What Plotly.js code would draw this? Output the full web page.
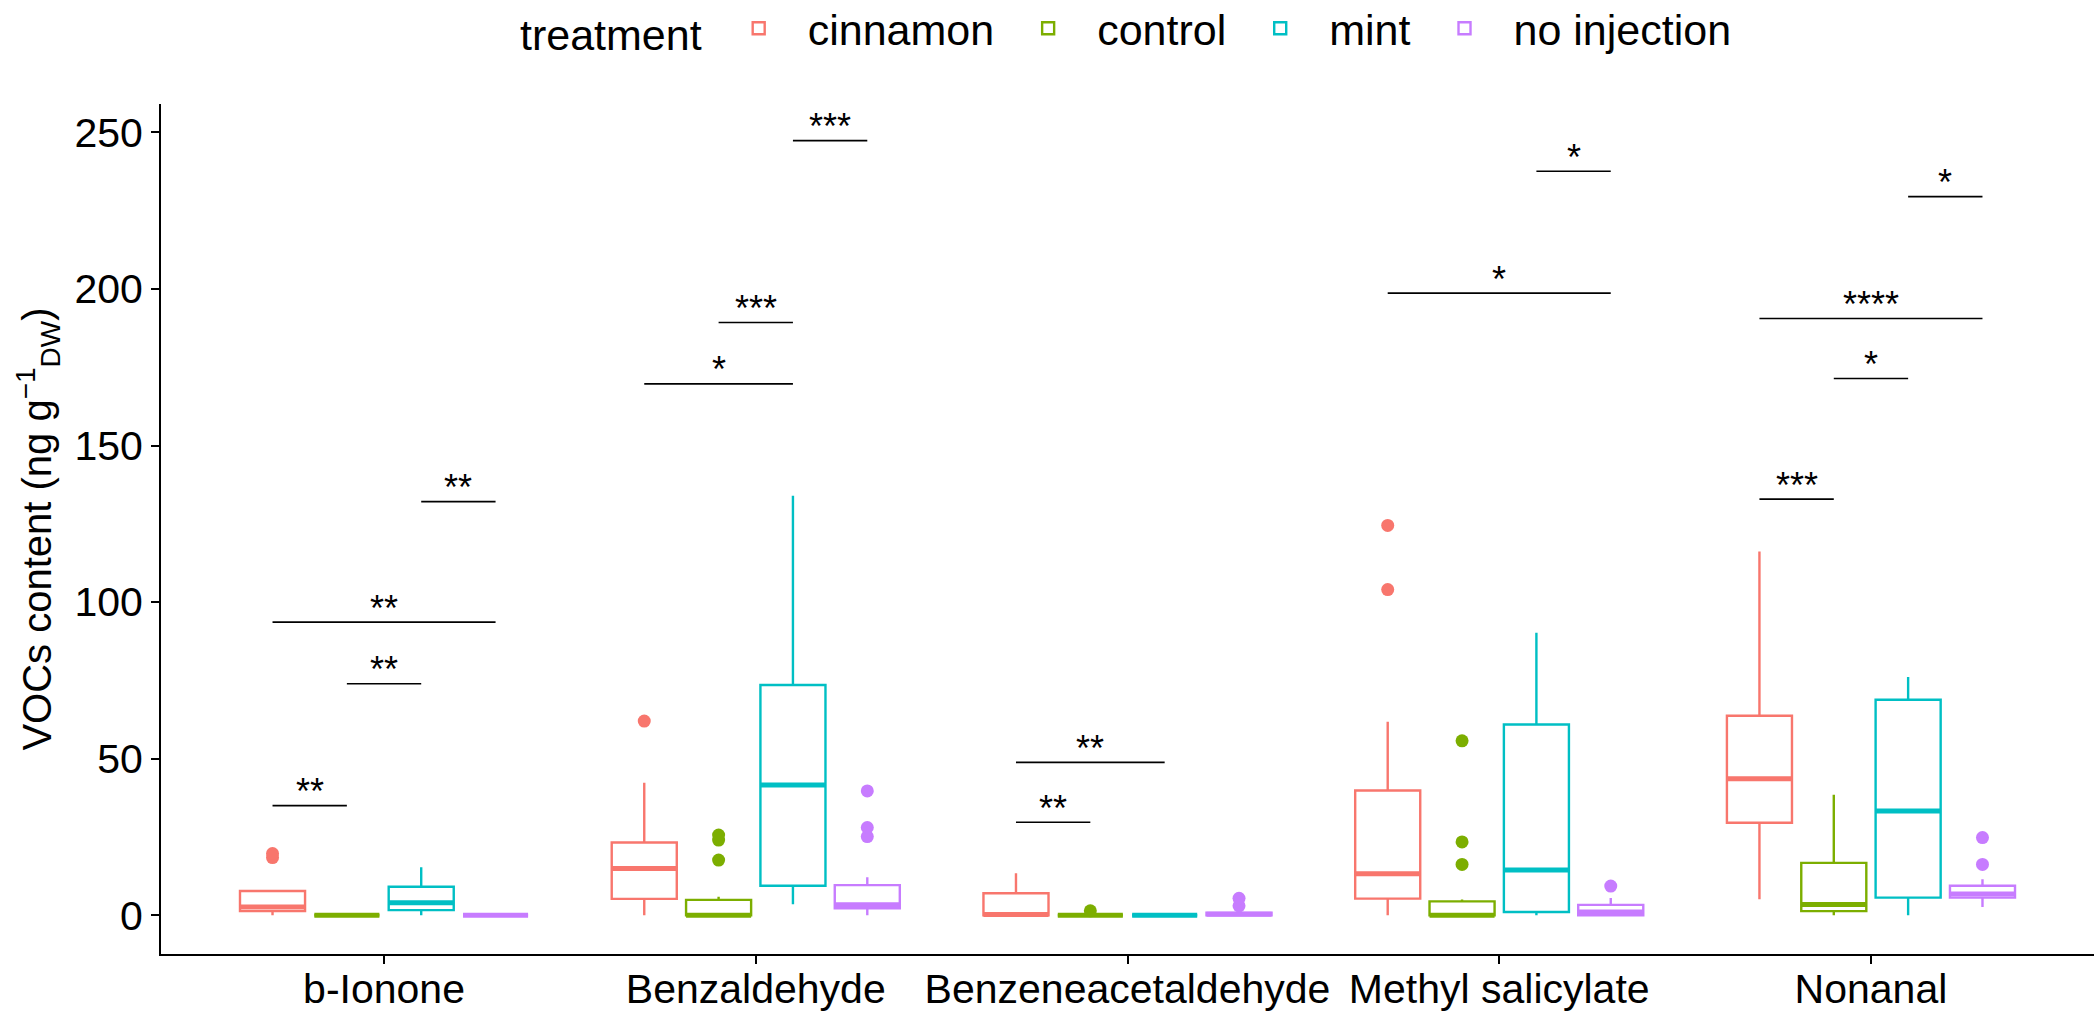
<!DOCTYPE html>
<html><head><meta charset="utf-8">
<script src="https://cdn.plot.ly/plotly-3.0.1.min.js"></script>
<style>body{margin:0;background:#fff}</style>
</head><body><div id="chart" style="width:2098px;height:1013px"></div>
<script>
const categories = ['b-Ionone','Benzaldehyde','Benzeneacetaldehyde','Methyl salicylate','Nonanal'];
const treatments = ['cinnamon','control','mint','no injection'];
const colors = ['#F8766D','#7CAE00','#00BFC4','#C77CFF'];

// cinnamon
const cinnamonLower  = [0, 0, 0, 0, 5.1];
const cinnamonQ1     = [1.3, 5.2, 0, 5.3, 29.5];
const cinnamonMedian = [2.6, 14.9, 0.2, 13.2, 43.6];
const cinnamonQ3     = [7.7, 23.2, 7.0, 39.8, 63.7];
const cinnamonUpper  = [7.7, 42.3, 13.4, 61.8, 116.2];
const cinnamonOutliers = [[19.7, 18.4], [62.0], [], [124.5, 104.0], []];
// control
const controlLower  = [0, 0, 0, 0, 0];
const controlQ1     = [0, 0, 0, 0, 1.3];
const controlMedian = [0, 0, 0, 0, 3.4];
const controlQ3     = [0, 4.9, 0, 4.4, 16.7];
const controlUpper  = [0, 5.9, 0, 5.0, 38.5];
const controlOutliers = [[], [25.6, 24.0, 17.6], [1.4], [55.7, 23.4, 16.2], []];
// mint
const mintLower  = [0, 3.5, 0, 0, 0];
const mintQ1     = [1.6, 9.4, 0, 1.0, 5.6];
const mintMedian = [4.0, 41.6, 0, 14.4, 33.3];
const mintQ3     = [9.1, 73.5, 0, 60.9, 68.8];
const mintUpper  = [15.3, 134.0, 0, 90.2, 76.1];
const mintOutliers = [[], [], [], [], []];
// no injection
const noInjLower  = [0, 0, 0, 0, 2.6];
const noInjQ1     = [0, 2.2, 0, 0, 5.6];
const noInjMedian = [0, 3.3, 0.3, 1.0, 6.8];
const noInjQ3     = [0, 9.6, 0.8, 3.3, 9.4];
const noInjUpper  = [0, 12.1, 1.5, 5.5, 11.5];
const noInjOutliers = [[], [39.7, 28.0, 25.1], [5.4, 3.0], [9.3], [24.8, 16.2]];

// significance comparisons
const sigCategory = ['b-Ionone','b-Ionone','b-Ionone','b-Ionone','Benzaldehyde','Benzaldehyde','Benzaldehyde','Benzeneacetaldehyde','Benzeneacetaldehyde','Methyl salicylate','Methyl salicylate','Nonanal','Nonanal','Nonanal','Nonanal'];
const sigGroup1 = ['cinnamon','control','cinnamon','mint','cinnamon','control','mint','cinnamon','cinnamon','cinnamon','mint','cinnamon','control','cinnamon','mint'];
const sigGroup2 = ['control','mint','no injection','no injection','mint','mint','no injection','control','mint','no injection','no injection','control','mint','no injection','no injection'];
const sigY = [35.0, 73.9, 93.6, 132.1, 169.7, 189.3, 247.4, 29.7, 48.8, 198.7, 237.6, 132.9, 171.4, 190.6, 229.5];
const sigLabel = ['**','**','**','**','*','***','***','**','**','*','*','***','*','****','*'];

const yTicks = [0, 50, 100, 150, 200, 250];

const stats = [
  {lf: cinnamonLower, q1: cinnamonQ1, med: cinnamonMedian, q3: cinnamonQ3, uf: cinnamonUpper, out: cinnamonOutliers},
  {lf: controlLower, q1: controlQ1, med: controlMedian, q3: controlQ3, uf: controlUpper, out: controlOutliers},
  {lf: mintLower, q1: mintQ1, med: mintMedian, q3: mintQ3, uf: mintUpper, out: mintOutliers},
  {lf: noInjLower, q1: noInjQ1, med: noInjMedian, q3: noInjQ3, uf: noInjUpper, out: noInjOutliers}
];

const traces = [];
// main boxes (precomputed statistics)
treatments.forEach((t, i) => {
  const s = stats[i];
  traces.push({
    type: 'box', name: t, x: categories,
    q1: s.q1, median: s.med, q3: s.q3, lowerfence: s.lf, upperfence: s.uf,
    orientation: 'v', offsetgroup: t, alignmentgroup: 'a',
    boxpoints: false, whiskerwidth: 0,
    line: {color: colors[i], width: 2.4}, fillcolor: 'rgba(255,255,255,0)',
    hoverinfo: 'skip'
  });
});
// thicker median bars (ggplot style)
treatments.forEach((t, i) => {
  const s = stats[i];
  traces.push({
    type: 'box', name: t, x: categories,
    q1: s.med, median: s.med, q3: s.med, lowerfence: s.med, upperfence: s.med,
    orientation: 'v', offsetgroup: t, alignmentgroup: 'a', showlegend: false,
    boxpoints: false, whiskerwidth: 0,
    line: {color: colors[i], width: 5}, fillcolor: 'rgba(255,255,255,0)',
    hoverinfo: 'skip'
  });
});
// outlier points
treatments.forEach((t, i) => {
  const xs = [], ys = [];
  stats[i].out.forEach((arr, c) => arr.forEach(v => { xs.push(categories[c]); ys.push(v); }));
  if (!xs.length) return;
  traces.push({
    type: 'box', name: t, x: xs, y: ys,
    orientation: 'v', offsetgroup: t, alignmentgroup: 'a', showlegend: false,
    boxpoints: 'all', jitter: 0, pointpos: 0, whiskerwidth: 0,
    line: {color: 'rgba(0,0,0,0)', width: 0}, fillcolor: 'rgba(0,0,0,0)',
    marker: {color: colors[i], size: 13, line: {width: 0}},
    hoverinfo: 'skip'
  });
});

const offsetOf = g => -0.3 + 0.2 * treatments.indexOf(g);
const shapes = [];
const annotations = [];
sigY.forEach((yv, k) => {
  const c = categories.indexOf(sigCategory[k]);
  const x0 = c + offsetOf(sigGroup1[k]);
  const x1 = c + offsetOf(sigGroup2[k]);
  shapes.push({type: 'line', xref: 'x', yref: 'y', x0: x0, x1: x1, y0: yv, y1: yv,
    line: {color: 'black', width: 1.6}});
  annotations.push({xref: 'x', yref: 'y', x: (x0 + x1) / 2, y: yv, text: sigLabel[k],
    showarrow: false, yanchor: 'middle', yshift: 14, font: {size: 36, color: 'black'}});
});

const axisCommon = {showline: true, linecolor: 'black', linewidth: 2, ticks: 'outside',
  ticklen: 8, tickwidth: 2, tickcolor: 'black', showgrid: false, zeroline: false,
  tickfont: {size: 41, color: 'black'}};

const layout = {
  width: 2098, height: 1013,
  margin: {l: 161, r: 4, t: 104, b: 59, autoexpand: false},
  paper_bgcolor: 'white', plot_bgcolor: 'white',
  font: {family: 'Liberation Sans, Arial, sans-serif', color: 'black'},
  boxmode: 'group', boxgap: 0.2, boxgroupgap: 0.125,
  xaxis: Object.assign({}, axisCommon, {type: 'category', categoryorder: 'array',
    categoryarray: categories, range: [-0.6, 4.6], ticklabelstandoff: -10}),
  yaxis: Object.assign({}, axisCommon, {range: [-12.4, 259.1], tickvals: yTicks,
    title: {text: 'VOCs content (ng g<sup>−1</sup><sub>DW</sub>)', font: {size: 40, color: 'black'}, standoff: 10}}),
  legend: {orientation: 'h', x: 0.5, xanchor: 'center', xref: 'paper',
    y: 0.972, yanchor: 'middle', yref: 'container', itemwidth: 88,
    font: {size: 43, color: 'black'}, title: {text: 'treatment', side: 'left', font: {size: 43}}},
  shapes: shapes,
  annotations: annotations
};

Plotly.newPlot('chart', traces, layout, {displayModeBar: false, staticPlot: true});
</script>
</body></html>
